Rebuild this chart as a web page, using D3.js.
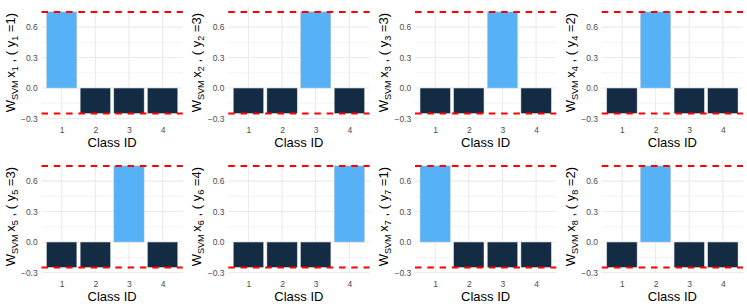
<!DOCTYPE html>
<html>
<head>
<meta charset="utf-8">
<script src="https://cdn.jsdelivr.net/npm/d3@7"></script>
<style>
  html, body { margin: 0; padding: 0; background: #fff; }
  svg { display: block; }
  text { font-family: "Liberation Sans", Arial, sans-serif; }
</style>
</head>
<body>
<svg id="chart" width="747" height="308"></svg>
<script>
// ---- data ----
const classIds = [1, 2, 3, 4];
const sampleIds = [1, 2, 3, 4, 5, 6, 7, 8];
const trueLabels = [1, 3, 3, 2, 3, 4, 1, 2];
const scores = [
  [0.75, -0.25, -0.25, -0.25],
  [-0.25, -0.25, 0.75, -0.25],
  [-0.25, -0.25, 0.75, -0.25],
  [-0.25, 0.75, -0.25, -0.25],
  [-0.25, -0.25, 0.75, -0.25],
  [-0.25, -0.25, -0.25, 0.75],
  [0.75, -0.25, -0.25, -0.25],
  [-0.25, 0.75, -0.25, -0.25]
];
const yTicks = [-0.3, 0.0, 0.3, 0.6];
const yMinorTicks = [-0.15, 0.15, 0.45, 0.75];
const refLines = [0.75, -0.25];
const xTitle = "Class ID";

// ---- layout ----
const W = 747, H = 308, cols = 4, rows = 2;
const cellW = W / cols, cellH = H / rows;
const pl = 41.5, pr = 182.8, pt = 6.8, pb = 118.5;

const svg = d3.select("#chart");
const x = d3.scaleLinear().domain([0.4, 4.6]).range([pl, pr]);
const y = d3.scaleLinear().domain([-0.3, 0.8]).range([pb, pt]);
const fill = d3.scaleLinear().domain([-0.25, 0.75]).range(["#132B43", "#56B1F7"]);

sampleIds.forEach((sid, i) => {
  const c = i % cols, r = Math.floor(i / cols);
  const g = svg.append("g").attr("transform", `translate(${c * cellW},${r * cellH})`);
  const vals = scores[i];
  const data = classIds.map((k, j) => ({ k, v: vals[j] }));

  // grid
  g.selectAll(".ymin").data(yMinorTicks).join("line")
    .attr("x1", pl).attr("x2", pr).attr("y1", d => y(d)).attr("y2", d => y(d))
    .attr("stroke", "#EBEBEB").attr("stroke-width", 0.6);
  g.selectAll(".ymaj").data(yTicks).join("line")
    .attr("x1", pl).attr("x2", pr).attr("y1", d => y(d)).attr("y2", d => y(d))
    .attr("stroke", "#EBEBEB").attr("stroke-width", 1.1);
  g.selectAll(".xmaj").data(classIds).join("line")
    .attr("y1", pt).attr("y2", pb).attr("x1", d => x(d)).attr("x2", d => x(d))
    .attr("stroke", "#EBEBEB").attr("stroke-width", 1.1);

  // bars
  g.selectAll(".bar").data(data).join("rect")
    .attr("x", d => x(d.k - 0.45))
    .attr("width", d => x(d.k + 0.45) - x(d.k - 0.45))
    .attr("y", d => y(Math.max(0, d.v)))
    .attr("height", d => Math.abs(y(d.v) - y(0)))
    .attr("fill", d => fill(d.v))
    .attr("stroke", "#c9ced3").attr("stroke-width", 0.5);

  // reference lines
  g.selectAll(".ref").data(refLines).join("line")
    .attr("x1", pl).attr("x2", pr).attr("y1", d => y(d)).attr("y2", d => y(d))
    .attr("stroke", "#FF0000").attr("stroke-width", 2)
    .attr("stroke-dasharray", "6.5,5.8");

  // axes
  const yAxis = d3.axisLeft(y).tickValues(yTicks).tickSize(0).tickPadding(3.8)
    .tickFormat(d => d3.format(".1f")(d).replace("-", "\u2212"));
  const ya = g.append("g").attr("transform", `translate(${pl},0)`).call(yAxis);
  ya.select(".domain").remove();
  ya.selectAll("text").attr("font-size", 8.5).attr("fill", "#4D4D4D")
    .attr("font-family", "Liberation Sans, Arial, sans-serif");

  const xAxis = d3.axisBottom(x).tickValues(classIds).tickSize(0).tickPadding(8.5)
    .tickFormat(d3.format("d"));
  const xa = g.append("g").attr("transform", `translate(0,${pb})`).call(xAxis);
  xa.select(".domain").remove();
  xa.selectAll("text").attr("font-size", 8.5).attr("fill", "#4D4D4D")
    .attr("font-family", "Liberation Sans, Arial, sans-serif");

  // x title
  g.append("text").attr("x", (pl + pr) / 2).attr("y", 147.3)
    .attr("text-anchor", "middle").attr("font-size", 13).attr("fill", "#000")
    .text(xTitle);

  // y title: W_SVM x_i , ( y_i =k)
  const yt = g.append("text")
    .attr("transform", `translate(14.5,${(pt + pb) / 2}) rotate(-90)`)
    .attr("text-anchor", "middle").attr("font-size", 13).attr("fill", "#000");
  yt.append("tspan").text("W");
  yt.append("tspan").attr("font-size", 9.1).attr("dy", 3).text("SVM");
  yt.append("tspan").attr("dy", -3).text("\u2009x");
  yt.append("tspan").attr("font-size", 9.1).attr("dy", 3).text(String(sid));
  yt.append("tspan").attr("dy", -3).text(" , ( y");
  yt.append("tspan").attr("font-size", 9.1).attr("dy", 3).text(String(sid));
  yt.append("tspan").attr("dy", -3).text(" =" + trueLabels[i] + ")");
});
</script>
</body>
</html>
